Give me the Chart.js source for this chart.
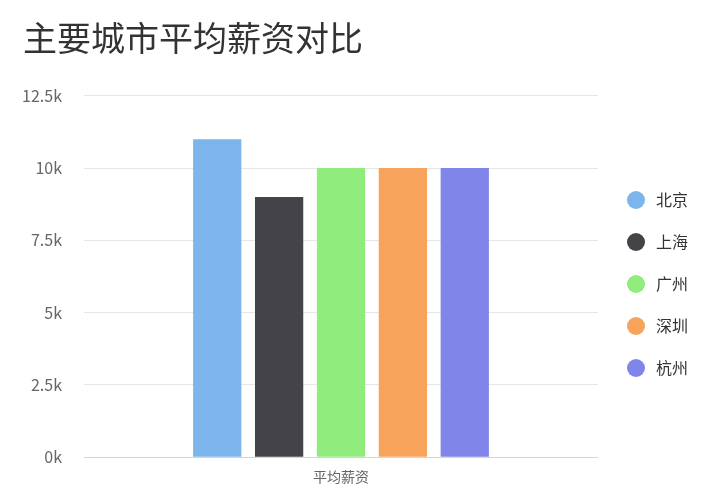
<!DOCTYPE html>
<html>
<head>
<meta charset="utf-8">
<script src="https://cdn.jsdelivr.net/npm/chart.js@4/dist/chart.umd.min.js"></script>
<style>
  html, body { margin: 0; padding: 0; background: #ffffff; }
  #wrap { width: 727px; height: 500px; position: relative; }
</style>
</head>
<body>
<div id="wrap"><canvas id="c" width="727" height="500"></canvas></div>
<script>
const titleText = '主要城市平均薪资对比';
const categories = ['平均薪资'];
const cities = ['北京', '上海', '广州', '深圳', '杭州'];
const salaries = [11000, 9000, 10000, 10000, 10000];
const colors = ['#7cb5ec', '#434348', '#90ed7d', '#f7a35c', '#8085e9'];
const yMax = 12500;
const yStep = 2500;

const FONT = '"Noto Sans CJK SC", "Noto Sans", sans-serif';

function makeDot(color) {
  const c = document.createElement('canvas');
  c.width = 18; c.height = 18;
  const g = c.getContext('2d');
  g.fillStyle = color;
  g.beginPath();
  g.arc(9, 9, 9, 0, Math.PI * 2);
  g.fill();
  return c;
}
const dots = colors.map(makeDot);

const datasets = cities.map((name, i) => ({
  label: name,
  data: [salaries[i]],
  backgroundColor: colors[i],
  borderWidth: 0,
  categoryPercentage: 0.602,
  barPercentage: 0.78
}));

new Chart(document.getElementById('c'), {
  type: 'bar',
  data: { labels: categories, datasets: datasets },
  options: {
    responsive: false,
    devicePixelRatio: 1,
    animation: false,
    layout: { padding: { left: 23, right: 29, top: 0, bottom: 12 } },
    plugins: {
      title: {
        display: true,
        text: titleText,
        align: 'start',
        color: '#333333',
        font: { family: FONT, size: 34, weight: 'normal' },
        padding: { top: 18, bottom: 37 }
      },
      legend: {
        position: 'right',
        align: 'start',
        title: {
          display: true,
          text: '',
          font: { family: FONT, size: 10, lineHeight: 1 },
          padding: { top: 156, bottom: 0 }
        },
        labels: {
          usePointStyle: true,
          pointStyleWidth: 24,
          padding: 26,
          color: '#333333',
          font: { family: FONT, size: 16 },
          generateLabels: function (chart) {
            const items = Chart.defaults.plugins.legend.labels.generateLabels(chart);
            items.forEach((it) => { it.pointStyle = dots[it.datasetIndex]; });
            return items;
          }
        }
      },
      tooltip: { enabled: false }
    },
    scales: {
      x: {
        grid: { display: false },
        border: { display: true, color: '#ccd6eb', width: 1 },
        ticks: { color: '#666666', font: { family: FONT, size: 14 }, padding: 3 }
      },
      y: {
        min: 0,
        max: yMax,
        afterFit: function (scale) { scale.width = 61; },
        grid: { color: '#e6e6e6', drawTicks: false, lineWidth: 1 },
        border: { display: false },
        ticks: {
          stepSize: yStep,
          color: '#666666',
          font: { family: FONT, size: 16 },
          padding: 22,
          callback: function (v) { return (v / 1000) + 'k'; }
        }
      }
    }
  }
});
</script>
</body>
</html>
